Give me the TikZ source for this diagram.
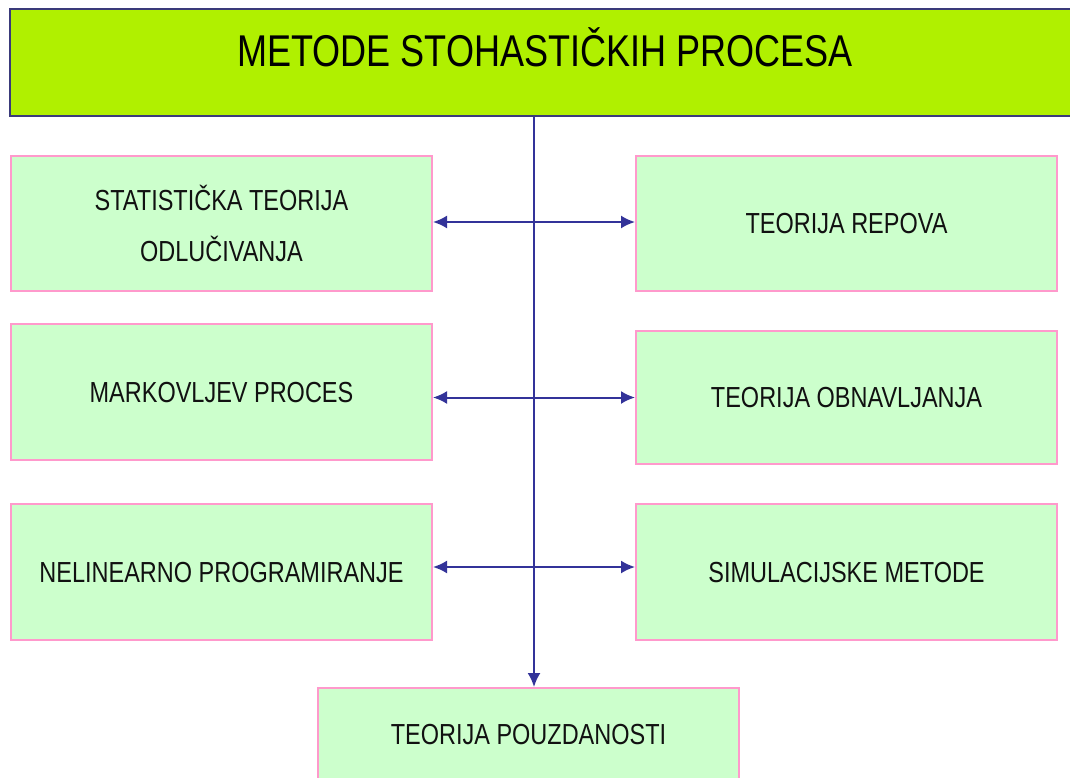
\documentclass[tikz,border=0pt]{standalone}
\usepackage{fontspec}
\setmainfont{Liberation Sans}[FakeStretch=0.81]
\usetikzlibrary{arrows.meta}
\definecolor{topfill}{HTML}{B0F000}
\definecolor{topline}{HTML}{3A3A7A}
\definecolor{boxfill}{HTML}{CCFFCC}
\definecolor{boxline}{HTML}{FF99CC}
\definecolor{arrcol}{HTML}{333399}
\definecolor{txt}{HTML}{111111}
\tikzset{
  titlebox/.style={draw=topline, line width=2pt, fill=topfill, inner sep=0pt,
    minimum width=1070pt, minimum height=107pt, text=black,
    font=\fontsize{44.5}{50}\selectfont, text height=32pt, text depth=23pt},
  greenbox/.style={draw=boxline, line width=2pt, fill=boxfill, inner sep=0pt,
    minimum width=421pt, minimum height=135pt, text=txt,
    font=\fontsize{29}{51}\selectfont},
  oneline/.style={text height=20.8pt, text depth=0pt},
  conn/.style={draw=arrcol, line width=2pt},
  tip/.style={-{Latex[length=14pt,width=13pt]}},
  bitip/.style={{Latex[length=14pt,width=13pt]}-{Latex[length=14pt,width=13pt]}}
}
\begin{document}
\begin{tikzpicture}[x=1pt,y=-1pt]
\useasboundingbox (0,0) rectangle (1070,778);
\clip (0,0) rectangle (1070,778);
\node[titlebox] (top) at (545,62.5) {METODE STOHASTIČKIH PROCESA};
\node[greenbox, align=center] (L1) at (221.5,223.5) {STATISTIČKA TEORIJA\\ODLUČIVANJA};
\node[greenbox, oneline] (R1) at (846.5,223.5) {TEORIJA REPOVA};
\node[greenbox, oneline, minimum height=136pt] (L2) at (221.5,392) {MARKOVLJEV PROCES};
\node[greenbox, oneline, minimum height=133pt] (R2) at (846.5,397.5) {TEORIJA OBNAVLJANJA};
\node[greenbox, oneline, minimum height=136pt] (L3) at (221.5,572) {NELINEARNO PROGRAMIRANJE};
\node[greenbox, oneline, minimum height=136pt] (R3) at (846.5,572) {SIMULACIJSKE METODE};
\node[greenbox, oneline, text depth=43pt] (B) at (528.5,755.5) {TEORIJA POUZDANOSTI};
\path[conn, tip] ([xshift=-11pt]top.south) -- ([xshift=-11pt]top.south |- B.north);
\path[conn, bitip] ([yshift=1.5pt]L1.east) -- ([yshift=1.5pt]R1.west);
\path[conn, bitip] (L2.east |- R2.west) -- (R2.west);
\path[conn, bitip] ([yshift=5pt]L3.east) -- ([yshift=5pt]R3.west);
\end{tikzpicture}
\end{document}
